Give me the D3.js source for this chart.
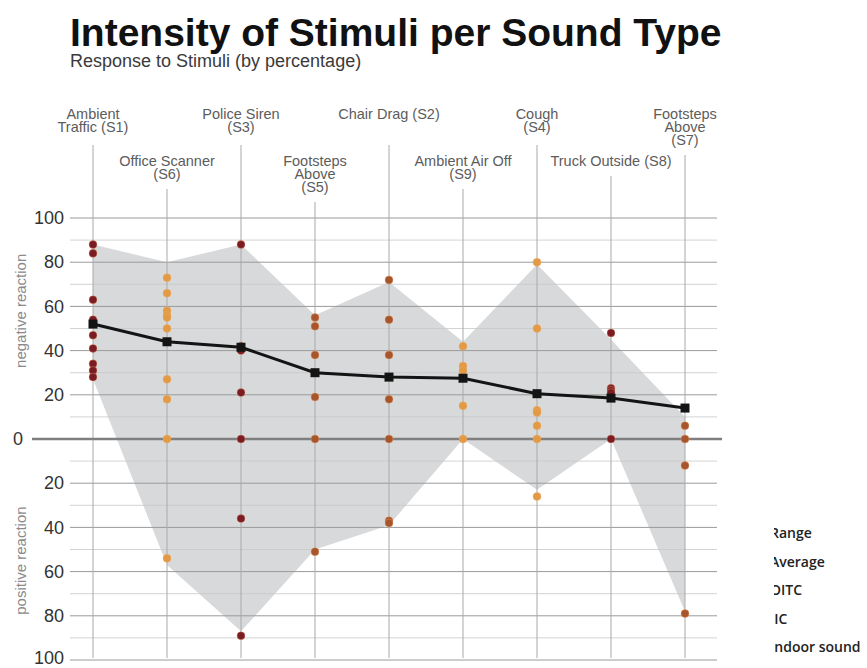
<!DOCTYPE html>
<html><head><meta charset="utf-8">
<script src="https://cdn.jsdelivr.net/npm/d3@7"></script>
<style>
html,body{margin:0;padding:0;background:#fff;}
svg{display:block;}
</style></head>
<body>
<script>
// ---------- data ----------
const categories = ["Ambient Traffic (S1)","Office Scanner (S6)","Police Siren (S3)","Footsteps Above (S5)","Chair Drag (S2)","Ambient Air Off (S9)","Cough (S4)","Truck Outside (S8)","Footsteps Above (S7)"];
const labelLines = [["Ambient","Traffic (S1)"],["Office Scanner","(S6)"],["Police Siren","(S3)"],["Footsteps","Above","(S5)"],["Chair Drag (S2)"],["Ambient Air Off","(S9)"],["Cough","(S4)"],["Truck Outside (S8)"],["Footsteps","Above","(S7)"]];
const pointGroup = ["OITC","Indoor sound","OITC","IIC","IIC","Indoor sound","Indoor sound","OITC","IIC"];
const pointValues = [
  [88,84,63,54,47,41,34,31,28],
  [73,66,58,56,55,50,27,18,0,-54],
  [88,42,40,21,0,-36,-89],
  [55,51,38,19,0,-51],
  [72,54,38,18,0,-37,-38],
  [42,33,31,15,0],
  [80,50,13,12,6,0,-26],
  [48,23,22,21,0],
  [6,0,-12,-79]
];
const rangeHigh = [88,80,88,56,71,44,79,45,10];
const rangeLow  = [27,-57,-87,-50,-39,0,-23,0,-78];
const average   = [52,44,41.5,30,28,27.5,20.5,18.5,14];
const tickValues = [-100,-80,-60,-40,-20,0,20,40,60,80,100];
const legendItems = ["Range","Average","OITC","IIC","Indoor sound"];
const groupColors = {"OITC":"#7b1b24","IIC":"#a8552d","Indoor sound":"#e29a44"};

// ---------- chart ----------
const W=867,H=668;
const svg = d3.select("body").append("svg").attr("width",W).attr("height",H);
const font = "Helvetica Neue, Helvetica, Arial, Liberation Sans, sans-serif";

const x = d3.scalePoint().domain(categories).range([93,685]);
const y = d3.scaleLinear().domain([-100,100]).range([660,218]);
const gridL = 70, gridR = 717;

// title
svg.append("text").attr("x",70).attr("y",46).attr("font-family",font).attr("font-weight","bold")
  .attr("font-size",39).attr("fill","#111").text("Intensity of Stimuli per Sound Type");
svg.append("text").attr("x",70).attr("y",67).attr("font-family",font)
  .attr("font-size",18).attr("fill","#3a3a3a").text("Response to Stimuli (by percentage)");

// range area
const rows = categories.map((c,i)=>({c,hi:rangeHigh[i],lo:rangeLow[i]}));
svg.append("path").datum(rows)
  .attr("fill","#d8d9db")
  .attr("d", d3.area().x(d=>x(d.c)).y0(d=>y(d.lo)).y1(d=>y(d.hi)));

// gridlines
const minor = d3.range(-90,100,20);
svg.append("g").selectAll("line").data(minor).join("line")
  .attr("x1",gridL).attr("x2",gridR).attr("y1",d=>y(d)).attr("y2",d=>y(d))
  .attr("stroke","#c9c9c9").attr("stroke-width",1).attr("opacity",0.8);
svg.append("g").selectAll("line").data(tickValues.filter(d=>d!==0)).join("line")
  .attr("x1",gridL).attr("x2",gridR).attr("y1",d=>y(d)).attr("y2",d=>y(d))
  .attr("stroke","#9a9a9a").attr("stroke-width",1);

// category labels and vertical lines
const lh = 13;
const labG = svg.append("g").attr("font-family",font).attr("font-size",14.5).attr("fill","#5c5c5c").attr("text-anchor","middle");
categories.forEach((c,i)=>{
  const lines = labelLines[i];
  const base = (i%2===0) ? 119 : 166;
  const t = labG.append("text").attr("x",x(c)).attr("y",base);
  lines.forEach((l,j)=>t.append("tspan").attr("x",x(c)).attr("y",base+j*lh).text(l));
  let top = base + (lines.length-1)*lh + 10;
  if(i%2===0) top = Math.max(top,145);
  svg.append("line").attr("x1",x(c)).attr("x2",x(c)).attr("y1",top).attr("y2",658)
    .attr("stroke","#a9a9a9").attr("stroke-width",1);
});

// zero line
svg.append("line").attr("x1",32).attr("x2",722).attr("y1",y(0)).attr("y2",y(0))
  .attr("stroke","#7f7f7f").attr("stroke-width",2.5);

// y axis labels
const axis = svg.append("g").attr("transform","translate(64,0)")
  .call(d3.axisLeft(y).tickValues(tickValues).tickFormat(d=>Math.abs(d)).tickSize(0).tickPadding(0));
axis.select(".domain").remove();
axis.selectAll("text").attr("font-family",font).attr("font-size",18).attr("fill","#333");
axis.selectAll(".tick").filter(d=>d===0).select("text").attr("text-anchor","start").attr("x",-51);
axis.selectAll(".tick").filter(d=>d===-100).select("text").attr("dy","0.2em");

// axis titles
svg.append("text").attr("transform",`translate(26,${y(58)}) rotate(-90)`).attr("text-anchor","middle")
  .attr("font-family",font).attr("font-size",15).attr("fill","#8a8a8a").text("negative reaction");
svg.append("text").attr("transform",`translate(26,${y(-55)}) rotate(-90)`).attr("text-anchor","middle")
  .attr("font-family",font).attr("font-size",15).attr("fill","#8a8a8a").text("positive reaction");

// points
const pts = [];
categories.forEach((c,i)=>pointValues[i].forEach(v=>pts.push({c,v,g:pointGroup[i]})));
svg.append("g").selectAll("circle").data(pts).join("circle")
  .attr("cx",d=>x(d.c)).attr("cy",d=>y(d.v)).attr("r",4)
  .attr("fill",d=>groupColors[d.g]).attr("stroke","#f0b070").attr("stroke-opacity",0.35).attr("stroke-width",1);

// average line + squares
const avg = categories.map((c,i)=>({c,v:average[i]}));
svg.append("path").datum(avg).attr("fill","none").attr("stroke","#141414").attr("stroke-width",3)
  .attr("d",d3.line().x(d=>x(d.c)).y(d=>y(d.v)));
svg.append("g").selectAll("rect").data(avg).join("rect")
  .attr("x",d=>x(d.c)-4.5).attr("y",d=>y(d.v)-4.5).attr("width",9).attr("height",9).attr("fill","#141414");

// legend (clipped at left, as in the reference)
svg.append("clipPath").attr("id","legclip").append("rect").attr("x",774).attr("y",500).attr("width",100).attr("height",168);
const leg = svg.append("g").attr("clip-path","url(#legclip)").attr("font-family","Open Sans, sans-serif")
  .attr("font-size",14).attr("font-weight",600).attr("fill","#222");
legendItems.forEach((t,i)=>{
  leg.append("text").attr("x",770).attr("y",538+i*28.5).text(t);
});
</script>
</body></html>
